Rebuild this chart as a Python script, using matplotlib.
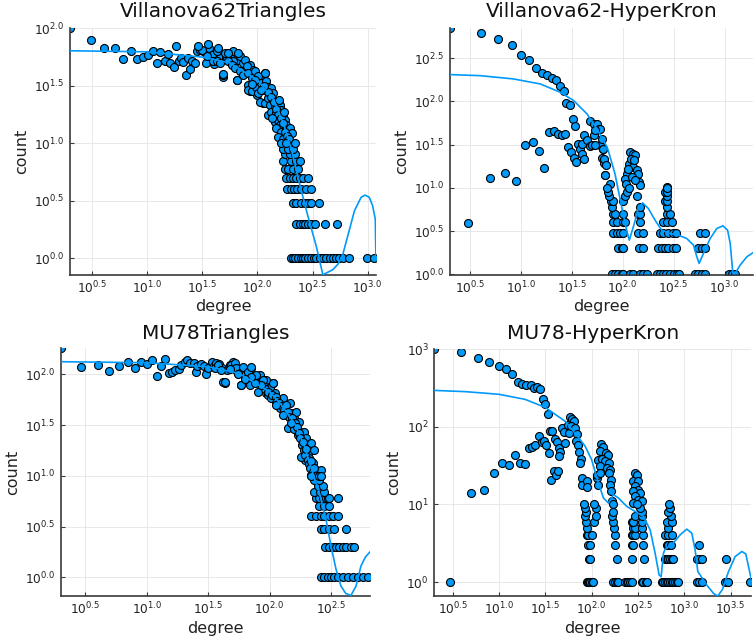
import numpy as np
import matplotlib
matplotlib.use("Agg")
import matplotlib.pyplot as plt

BLUE = "#009afa"

# all values are log10(degree), log10(count)
# ---------------- Villanova62Triangles ----------------
v62t_x = [0.301, 0.49, 0.61, 0.71, 0.785, 0.85, 0.91, 0.963, 1.01, 1.05, 1.087, 1.12, 1.16, 1.19,
          1.21, 1.24, 1.26, 1.29, 1.31, 1.33, 1.35, 1.37, 1.39, 1.41, 1.43, 1.45, 1.48, 1.51, 1.53,
          1.56, 1.59, 1.61, 1.64, 1.66, 1.69, 1.715,
          1.752, 1.782, 1.812, 1.842, 1.866, 1.887, 1.902, 1.932, 1.948, 1.962, 1.686, 1.812, 1.932,
          1.993, 1.917, 2.068, 2.052, 1.993, 2.007, 2.023, 1.722, 1.707, 1.632, 1.601, 1.541, 1.496,
          1.466, 1.556, 1.646, 1.736, 1.782, 1.827,
          1.631, 1.661, 1.691, 1.736, 1.766, 1.796, 1.812, 1.842, 1.872, 1.902, 1.917, 1.947, 1.977,
          2.007, 2.067, 1.917, 1.947, 1.992, 2.007, 2.037, 2.052, 2.082, 2.097, 2.127, 2.143, 2.022,
          2.067, 2.097, 2.112, 2.143, 2.158, 2.097, 2.127, 2.173, 2.203, 2.218, 2.233, 2.158, 2.188,
          2.203, 2.248, 2.263, 2.173, 2.218, 2.263, 2.293, 2.188, 2.233, 2.278, 2.314,
          2.10, 2.12, 2.15, 2.17, 2.19, 2.21, 2.23, 2.25, 2.27, 2.29, 2.20, 2.06, 2.03, 1.98, 1.95,
          2.13, 2.24]
v62t_y = [2.0, 1.90, 1.83, 1.83, 1.73, 1.80, 1.73, 1.75, 1.77, 1.80, 1.70, 1.79, 1.72, 1.78,
          1.70, 1.66, 1.85, 1.72, 1.74, 1.71, 1.59, 1.74, 1.65, 1.72, 1.70, 1.80, 1.81, 1.80, 1.70,
          1.83, 1.77, 1.69, 1.81, 1.74, 1.58, 1.74,
          1.772, 1.80, 1.728, 1.758, 1.70, 1.728, 1.655, 1.684, 1.611, 1.64, 1.596, 1.553, 1.451,
          1.495, 1.509, 1.611, 1.348, 1.421, 1.538, 1.567, 1.743, 1.787, 1.80, 1.714, 1.758, 1.816,
          1.845, 1.86, 1.831, 1.787, 1.714, 1.787,
          1.714, 1.699, 1.603, 1.714, 1.685, 1.655, 1.553, 1.626, 1.597, 1.67, 1.611, 1.568, 1.626,
          1.582, 1.611, 1.465, 1.451, 1.494, 1.436, 1.524, 1.465, 1.538, 1.494, 1.48, 1.436, 1.363,
          1.348, 1.392, 1.334, 1.378, 1.319, 1.246, 1.275, 1.26, 1.334, 1.29, 1.246, 1.187, 1.202,
          1.158, 1.202, 1.158, 1.129, 1.1, 1.114, 1.129, 1.056, 1.041, 1.056, 1.094,
          1.45, 1.40, 1.36, 1.30, 1.25, 1.22, 1.18, 1.10, 1.06, 1.04, 1.38, 1.50, 1.46, 1.55, 1.52,
          1.22, 1.27]
v62t_rows = {
    1: [2.302, 2.323, 2.344, 2.368, 2.392, 2.413, 2.434, 2.458, 2.488, 2.512, 2.534, 2.564, 2.594,
        2.624, 2.654, 2.684, 2.714, 2.744, 2.774, 2.834, 2.994, 3.06],
    2: [2.353, 2.383, 2.413, 2.434, 2.458, 2.488, 2.519, 2.615, 2.72],
    3: [2.323, 2.353, 2.392, 2.428, 2.458, 2.488, 2.555],
    4: [2.272, 2.302, 2.332, 2.362, 2.398, 2.443, 2.482],
    5: [2.263, 2.293, 2.323, 2.353, 2.383, 2.413, 2.458],
    6: [2.248, 2.278, 2.323, 2.368],
    7: [2.233, 2.308, 2.353, 2.383],
    8: [2.248, 2.293, 2.338],
    9: [2.233, 2.278, 2.323],
    10: [2.218, 2.263, 2.338],
}
v62t_fit_x = [0.301, 1.0, 1.5, 1.75, 2.0, 2.148, 2.24, 2.31, 2.39, 2.46, 2.534, 2.594, 2.624,
              2.684, 2.735, 2.774, 2.819, 2.88, 2.94, 2.976, 3.015, 3.045, 3.069, 3.075]
v62t_fit_y = [1.805, 1.796, 1.75, 1.70, 1.55, 1.38, 1.16, 0.94, 0.62, 0.36, 0.105, -0.143, -0.128,
              -0.099, -0.046, 0.032, 0.193, 0.413, 0.53, 0.55, 0.53, 0.456, 0.34, 0.0]

# ---------------- Villanova62-HyperKron ----------------
v62h_x = [0.301, 0.606, 0.78, 0.911, 1.003, 1.081, 1.147, 1.206, 1.255, 1.304, 1.347, 1.386, 1.419,
          1.446, 1.478, 1.508, 1.534, 0.484, 0.698, 0.845, 0.957, 1.045, 1.117, 1.18, 1.232, 1.278,
          1.321, 1.364, 1.403, 1.429, 1.465, 1.491, 1.518, 1.544, 1.557, 1.583, 1.6, 1.616, 1.603,
          1.623, 1.649, 1.675, 1.698, 1.715, 1.682, 1.715, 1.747, 1.764, 1.78, 1.731, 1.774, 1.806,
          1.797, 1.82, 1.829,
          1.727, 1.793, 1.809, 1.816, 1.835, 1.826, 1.875,
          2.072, 2.105, 2.121, 2.065, 2.078, 2.098, 2.111, 2.137, 2.154, 2.164, 2.17, 2.045, 2.022,
          2.032, 2.088, 2.121, 2.055, 2.439]
v62h_y = [2.845, 2.787, 2.717, 2.656, 2.533, 2.475, 2.391, 2.325, 2.302, 2.268, 2.244, 2.183, 2.121,
          1.979, 1.96, 1.795, 1.714, 0.599, 1.11, 1.176, 1.08, 1.491, 1.529, 1.429, 1.229, 1.641,
          1.66, 1.622, 1.606, 1.622, 1.472, 1.414, 1.345, 1.299, 1.51, 1.452, 1.395, 1.337, 1.51,
          1.606, 1.549, 1.483, 1.491, 1.606, 1.779, 1.741, 1.741, 1.675, 1.683, 1.664, 1.491, 1.445,
          1.345, 1.287, 1.145,
          1.491, 1.568, 1.453, 1.337, 1.26, 1.145, 1.049,
          1.414, 1.395, 1.376, 1.28, 1.337, 1.241, 1.318, 1.203, 1.164, 1.068, 1.03, 1.164, 1.107,
          1.049, 1.126, 1.087, 1.222, 1.01]
v62h_rows = {
    1: [1.891, 1.924, 1.957, 1.99, 2.006, 2.07, 2.105, 2.17, 2.203, 2.24, 2.337, 2.37, 2.40, 2.43,
        2.465, 2.50, 2.531, 2.551, 2.71, 2.744, 2.777, 2.81, 3.04, 3.075, 3.105],
    2: [1.957, 1.99, 2.006, 2.164, 2.203, 2.35, 2.384, 2.416, 2.449, 2.49, 2.524, 2.744, 2.777, 2.81],
    3: [1.908, 1.94, 1.97, 2.006, 2.154, 2.203, 2.367, 2.40, 2.449, 2.498, 2.524, 2.76, 2.81],
    4: [1.901, 1.94, 1.999, 2.022, 2.17, 2.40, 2.439, 2.485],
    5: [1.901, 1.924, 2.006, 2.154, 2.17, 2.439, 2.465],
    6: [1.891, 2.17, 2.439],
    7: [1.881, 1.901, 1.999, 2.416, 2.439],
    8: [1.868, 2.022, 2.137, 2.439],
    9: [1.858, 2.039, 2.416, 2.439],
    10: [1.842, 2.065, 2.439],
}
v62h_fit_x = [0.301, 0.599, 0.927, 1.19, 1.386, 1.518, 1.649, 1.747, 1.846, 1.858, 1.924, 1.99,
              2.039, 2.065, 2.105, 2.154, 2.196, 2.252, 2.318, 2.383, 2.465, 2.547, 2.629, 2.695,
              2.728, 2.751, 2.793, 2.859, 2.925, 2.984, 3.03, 3.056, 3.082, 3.105, 3.154, 3.22, 3.28]
v62h_fit_y = [2.31, 2.298, 2.26, 2.202, 2.106, 2.01, 1.856, 1.683, 1.472, 1.433, 1.164, 0.78,
              0.511, 0.395, 0.549, 0.761, 0.826, 0.761, 0.626, 0.511, 0.472, 0.453, 0.414, 0.338,
              0.203, 0.126, 0.241, 0.414, 0.53, 0.561, 0.511, 0.357, 0.011, 0.011, 0.107, 0.203, 0.25]

# ---------------- MU78Triangles ----------------
mu78t_x = [0.301, 0.467, 0.60, 0.69, 0.776, 0.844, 0.904, 0.953, 1.0, 1.04, 1.08, 1.117, 1.145, 1.18,
           1.205, 1.23, 1.26, 1.28, 1.31, 1.33, 1.35, 1.38, 1.40, 1.41, 1.44, 1.465, 1.48, 1.50,
           1.53, 1.55, 1.565, 1.59, 1.61, 1.635, 1.65,
           1.701, 1.851, 1.77, 1.62, 2.026, 1.675, 1.729, 1.81, 1.877, 1.918, 1.972,
           1.553, 1.58, 1.607, 1.634, 1.688, 1.715, 1.729, 1.756, 1.769, 1.783, 1.797, 1.824, 1.851,
           1.837, 1.864, 1.878, 1.891, 1.905, 1.918, 1.945, 1.959, 1.972, 1.986, 1.999, 2.013, 2.026,
           2.04, 2.054, 2.067, 2.081, 2.094, 2.108, 2.121, 2.135, 2.148, 2.162, 2.175, 2.189, 2.202,
           2.216, 2.229, 2.243, 2.251, 2.262, 2.278, 2.289, 2.297, 2.311, 2.324, 2.338, 2.351, 2.365,
           2.378, 2.338, 2.419, 2.284, 2.256,
           1.96, 1.99, 2.02, 2.05, 2.06, 2.08, 2.10, 2.12, 2.13, 2.15, 2.16, 2.18, 2.19, 2.20, 2.21,
           2.22, 2.23, 2.24, 2.25, 2.26, 2.27, 2.28, 2.29, 2.30, 2.31, 2.32, 2.33, 2.34, 2.35, 2.36,
           2.37, 2.05, 2.11, 2.17, 1.93, 1.88, 1.85, 1.80, 1.74, 1.68]
mu78t_y = [2.257, 2.075, 2.09, 2.03, 2.085, 2.12, 2.065, 2.12, 2.10, 2.14, 1.98, 2.085, 2.15, 2.01,
           2.025, 2.04, 2.05, 2.09, 2.12, 2.14, 2.11, 2.11, 2.025, 2.085, 2.10, 2.085, 2.0, 2.065,
           2.12, 2.085, 2.11, 2.10, 2.065, 1.92, 2.04,
           2.124, 2.059, 1.895, 1.927, 1.917, 2.091, 2.042, 2.01, 1.96, 1.993, 1.944,
           2.059, 2.092, 2.043, 1.928, 2.092, 2.108, 2.059, 2.01, 1.895, 2.075, 1.994, 2.026, 2.075,
           1.895, 1.977, 1.944, 1.994, 1.83, 1.912, 1.944, 1.879, 1.813, 1.797, 1.862, 1.764, 1.912,
           1.813, 1.715, 1.748, 1.666, 1.731, 1.764, 1.682, 1.60, 1.469, 1.715, 1.617, 1.535, 1.567,
           1.633, 1.453, 1.535, 1.404, 1.354, 1.436, 1.289, 1.371, 1.223, 1.174, 1.322, 1.125, 1.256,
           1.059, 1.01, 1.059, 1.158, 1.19,
           1.86, 1.83, 1.80, 1.78, 1.74, 1.72, 1.69, 1.65, 1.70, 1.63, 1.58, 1.57, 1.50, 1.46, 1.52,
           1.48, 1.40, 1.42, 1.37, 1.30, 1.33, 1.25, 1.21, 1.26, 1.16, 1.12, 1.08, 1.15, 1.04, 1.08,
           1.00, 1.70, 1.60, 1.52, 1.90, 1.92, 1.97, 1.95, 2.00, 2.05]
mu78t_rows = {
    1: [2.419, 2.446, 2.473, 2.5, 2.527, 2.554, 2.595, 2.635, 2.676, 2.716, 2.757, 2.798],
    2: [2.451, 2.486, 2.514, 2.541, 2.568, 2.595, 2.622, 2.662, 2.689],
    3: [2.419, 2.446, 2.486, 2.527, 2.622],
    4: [2.338, 2.378, 2.419, 2.446, 2.486, 2.514, 2.554],
    5: [2.405, 2.446, 2.486],
    6: [2.378, 2.405, 2.432, 2.459, 2.473, 2.486, 2.56],
    7: [2.365, 2.41, 2.446],
    8: [2.392, 2.432],
    9: [2.359, 2.40],
    10: [2.338, 2.405, 2.419],
}
mu78t_fit_x = [0.301, 1.0, 1.5, 1.75, 2.0, 2.094, 2.202, 2.284, 2.351, 2.405, 2.459, 2.5, 2.541,
               2.581, 2.62, 2.662, 2.703, 2.743, 2.78, 2.817]
mu78t_fit_y = [2.125, 2.115, 2.075, 2.01, 1.83, 1.70, 1.518, 1.289, 1.027, 0.83, 0.568, 0.306, 0.076,
               -0.088, -0.16, -0.18, -0.088, 0.109, 0.2, 0.25]

# ---------------- MU78-HyperKron ----------------
mu78h_x = [0.301, 0.593, 0.773, 0.895, 0.997, 1.076, 1.14, 1.20, 1.25, 1.29, 1.34, 1.375, 1.41, 1.44,
           1.475, 1.50, 1.525, 0.694, 0.84, 0.946, 1.03, 1.11, 1.17, 1.227, 1.277, 1.32, 1.356, 1.39,
           1.43, 1.46, 1.49, 1.51, 1.54, 1.55, 1.57, 1.565, 1.59, 1.615, 1.64, 1.60, 1.625, 1.645,
           1.655, 1.645, 1.68, 1.705, 1.716, 1.74, 1.75, 1.77, 1.79, 1.807, 1.78, 1.82, 1.84, 1.83,
           1.855, 1.86, 1.885, 1.87, 1.90, 1.90,
           1.947, 1.947, 2.055, 2.065,
           2.102, 2.127, 2.091, 2.152, 2.181, 2.073, 2.109, 2.145, 2.188, 2.091, 2.163, 2.199, 2.055,
           2.091, 2.188, 2.21, 2.199, 2.21, 2.224,
           2.469, 2.487, 2.451, 2.505, 2.469, 2.498, 2.451, 2.523, 2.469, 2.505, 2.541, 2.451]
mu78h_y = [3.0, 2.97, 2.89, 2.84, 2.785, 2.74, 2.68, 2.58, 2.55, 2.54, 2.535, 2.50, 2.52, 2.49,
           2.355, 2.29, 2.17, 1.15, 1.18, 1.40, 1.53, 1.505, 1.64, 1.54, 1.52, 1.73, 1.74, 1.76,
           1.88, 1.81, 1.82, 1.76, 1.665, 1.95, 1.95, 1.32, 1.43, 1.375, 1.43, 1.85, 1.80, 1.73,
           1.68, 1.62, 1.98, 1.94, 1.79, 2.03, 1.92, 2.13, 2.10, 2.07, 2.01, 1.99, 1.91, 1.82,
           1.77, 1.68, 1.58, 1.535, 1.34, 1.255,
           1.30, 1.23, 1.34, 1.255,
           1.773, 1.742, 1.686, 1.665, 1.643, 1.579, 1.587, 1.557, 1.535, 1.492, 1.471, 1.449, 1.385,
           1.406, 1.406, 1.32, 1.255, 1.169, 1.05,
           1.406, 1.385, 1.298, 1.298, 1.234, 1.19, 1.169, 1.147, 1.104, 1.061, 1.04, 1.018]
mu78h_rows = {
    1: [0.474, 1.947, 1.965, 1.97, 1.983, 2.001, 2.019, 2.235, 2.253, 2.271, 2.289, 2.361, 2.379,
        2.397, 2.415, 2.433, 2.541, 2.559, 2.584, 2.595, 2.757, 2.775, 2.793, 2.811, 2.829, 2.847,
        2.865, 2.883, 2.901, 2.919, 2.937, 3.135, 3.16, 3.189, 3.441, 3.459, 3.477, 3.707],
    2: [1.97, 1.983, 2.271, 2.433, 2.57, 2.793, 2.811, 2.829, 2.847, 2.865, 2.883, 3.135, 3.16,
        3.189, 3.448],
    3: [1.957, 1.983, 2.253, 2.433, 2.451, 2.559, 2.811, 2.829, 2.858, 3.16],
    4: [1.95, 1.965, 2.008, 2.253, 2.433, 2.451, 2.469, 2.559, 2.793, 2.829, 2.872],
    5: [1.945, 2.246, 2.451, 2.469, 2.548, 2.829],
    6: [1.94, 2.03, 2.235, 2.433, 2.451, 2.541, 2.811, 2.865],
    7: [1.93, 2.048, 2.224, 2.469, 2.541, 2.858],
    8: [1.935, 2.228, 2.541, 2.829],
    9: [1.925, 2.044, 2.523, 2.847],
    10: [1.915, 2.03, 2.235, 2.487, 2.84],
}
mu78h_fit_x = [0.301, 0.636, 0.997, 1.28, 1.50, 1.716, 1.86, 1.929, 1.999, 2.073, 2.127, 2.181,
               2.235, 2.289, 2.379, 2.469, 2.559, 2.631, 2.685, 2.728, 2.75, 2.775, 2.793, 2.865,
               2.955, 3.027, 3.081, 3.117, 3.146, 3.171, 3.243, 3.315, 3.362, 3.412, 3.477, 3.549,
               3.621, 3.664, 3.72]
mu78h_fit_y = [2.47, 2.454, 2.42, 2.355, 2.25, 2.07, 1.86, 1.751, 1.579, 1.277, 1.083, 1.018,
               1.126, 1.083, 0.975, 0.91, 0.845, 0.673, 0.371, 0.091, 0.069, 0.371, 0.423, 0.479,
               0.608, 0.682, 0.63, 0.414, 0.134, 0.091, -0.039, -0.146, -0.181, -0.095, 0.134, 0.328,
               0.393, 0.363, 0.05]


def panel(rect, title, bx, by, rows, fx, fy, xlim, ylim, xt, yt, ylab, title_y, lab_pos):
    ax = fig.add_axes(rect)
    px = list(bx)
    py = list(by)
    for c, xs in rows.items():
        px += xs
        py += [np.log10(c)] * len(xs)
    ax.scatter(10 ** np.array(px), 10 ** np.array(py), s=33, c=BLUE,
               edgecolors="black", linewidths=0.8, zorder=2)
    ax.plot(10 ** np.array(fx), 10 ** np.array(fy), color=BLUE, lw=1.2, zorder=3)
    ax.set_xscale("log")
    ax.set_yscale("log")
    ax.set_xlim(10 ** xlim[0], 10 ** xlim[1])
    ax.set_ylim(10 ** ylim[0], 10 ** ylim[1])
    ax.set_xticks([10 ** t for t in xt])
    ax.set_xticklabels([r"$10^{%.1f}$" % t for t in xt])
    ax.set_yticks([10 ** t for t in yt])
    ax.set_yticklabels(ylab)
    ax.minorticks_off()
    ax.grid(True, color="#e4e4e4", lw=0.6)
    ax.set_axisbelow(True)
    for s in ["top", "right"]:
        ax.spines[s].set_visible(False)
    for s in ["left", "bottom"]:
        ax.spines[s].set_color("#3a3a3a")
        ax.spines[s].set_linewidth(1.2)
    ax.tick_params(direction="in", length=3, width=0.8, color="#3a3a3a",
                   labelsize=8.7, labelcolor="#222222")
    ax.tick_params(axis="x", pad=3.5)
    ax.tick_params(axis="y", pad=4)
    ax.set_title(title, fontsize=14.5, y=title_y, pad=0, va="center", color="#111111")
    ax.set_xlabel("degree", fontsize=11.5, va="center", color="#222222")
    ax.set_ylabel("count", fontsize=11.5, va="center", color="#222222")
    ax.xaxis.set_label_coords(0.5, lab_pos[1])
    ax.yaxis.set_label_coords(lab_pos[0], 0.5)
    return ax


fig = plt.figure(figsize=(7.54, 6.4), dpi=100)

half = [0.5, 1.0, 1.5, 2.0, 2.5, 3.0]
panel([0.0928, 0.5698, 0.4058, 0.3859], "Villanova62Triangles", v62t_x, v62t_y, v62t_rows,
      v62t_fit_x, v62t_fit_y, (0.301, 3.075), (-0.148, 2.0), half, [0.0, 0.5, 1.0, 1.5, 2.0],
      [r"$10^{%.1f}$" % t for t in [0.0, 0.5, 1.0, 1.5, 2.0]], 1.067, (-0.157, -0.127))
panel([0.5964, 0.5698, 0.4023, 0.3859], "Villanova62-HyperKron", v62h_x, v62h_y, v62h_rows,
      v62h_fit_x, v62h_fit_y, (0.301, 3.28), (-0.012, 2.845), half,
      [0.0, 0.5, 1.0, 1.5, 2.0, 2.5],
      [r"$10^{%.1f}$" % t for t in [0.0, 0.5, 1.0, 1.5, 2.0, 2.5]], 1.067, (-0.157, -0.127))
panel([0.0809, 0.06875, 0.4098, 0.3870], "MU78Triangles", mu78t_x, mu78t_y, mu78t_rows,
      mu78t_fit_x, mu78t_fit_y, (0.301, 2.817), (-0.185, 2.257), [0.5, 1.0, 1.5, 2.0, 2.5],
      [0.0, 0.5, 1.0, 1.5, 2.0],
      [r"$10^{%.1f}$" % t for t in [0.0, 0.5, 1.0, 1.5, 2.0]], 1.058, (-0.158, -0.13))
panel([0.5760, 0.06875, 0.4200, 0.3855], "MU78-HyperKron", mu78h_x, mu78h_y, mu78h_rows,
      mu78h_fit_x, mu78h_fit_y, (0.301, 3.72), (-0.18, 3.0), half + [3.5],
      [0, 1, 2, 3], [r"$10^{%d}$" % t for t in [0, 1, 2, 3]], 1.062, (-0.13, -0.131))

fig.savefig("out.png", dpi=100)
